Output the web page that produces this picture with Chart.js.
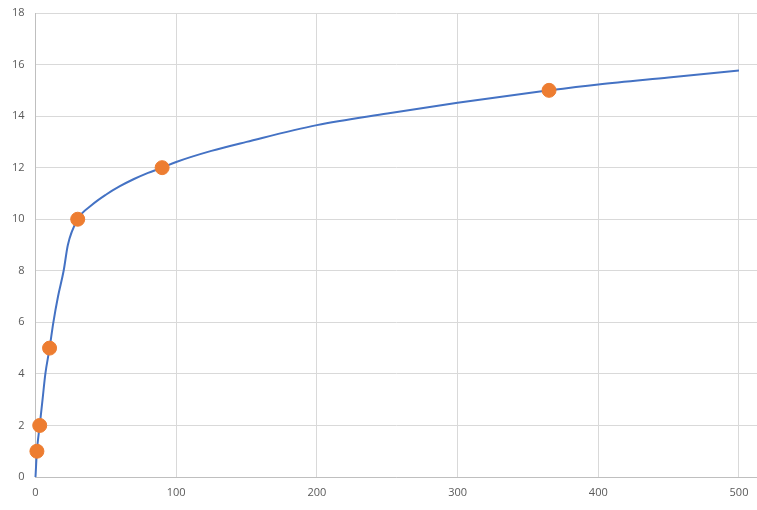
<!DOCTYPE html>
<html>
<head>
<meta charset="utf-8">
<script src="https://cdn.jsdelivr.net/npm/chart.js@4/dist/chart.umd.min.js"></script>
<style>
  html, body { margin: 0; padding: 0; background: #fff; }
  #wrap { width: 757px; height: 510px; }
</style>
</head>
<body>
<div id="wrap"><canvas id="chart"></canvas></div>
<script>
// curve
const curveX = [0, 1, 3, 5, 7, 10, 12.7, 16, 20, 23, 30, 40, 50, 60, 70, 80, 90, 100, 125, 150, 200, 250, 300, 365, 400, 450, 500];
const curveY = [0, 1, 2, 3, 4, 5, 6, 7, 8, 9, 10, 10.55, 10.95, 11.28, 11.56, 11.8, 12.0, 12.22, 12.65, 13.0, 13.65, 14.1, 14.52, 15.0, 15.23, 15.5, 15.77];

// orange markers
const pointX = [1, 3, 10, 30, 90, 365];
const pointY = [1, 2, 5, 10, 12, 15];

const xTicks = [0, 100, 200, 300, 400, 500];

const toXY = (xs, ys) => xs.map((x, i) => ({ x: x, y: ys[i] }));

new Chart(document.getElementById('chart'), {
  type: 'scatter',
  data: {
    datasets: [
      {
        label: 'Points',
        data: toXY(pointX, pointY),
        backgroundColor: '#ED7D31',
        borderColor: '#ED7D31',
        pointRadius: 7,
        pointHoverRadius: 7,
        clip: false,
        order: 0
      },
      {
        label: 'Curve',
        data: toXY(curveX, curveY),
        showLine: true,
        borderColor: '#4472C4',
        borderWidth: 2,
        pointRadius: 0,
        cubicInterpolationMode: 'monotone',
        clip: false,
        order: 1
      }
    ]
  },
  options: {
    responsive: true,
    maintainAspectRatio: false,
    animation: false,
    layout: { autoPadding: false, padding: { top: 13, right: 0, left: 0, bottom: 0 } },
    plugins: {
      legend: { display: false },
      tooltip: { enabled: false }
    },
    scales: {
      x: {
        type: 'linear',
        min: 0,
        max: 512.8,
        afterBuildTicks: (scale) => { scale.ticks = xTicks.map(v => ({ value: v })); },
        afterFit: (scale) => {
          scale.height = 33;
          scale.paddingLeft = 0;
          scale.paddingRight = 0;
        },
        grid: { color: '#d9d9d9', drawTicks: false },
        border: { color: '#bfbfbf' },
        ticks: {
          padding: 9,
          color: '#595959',
          font: { family: 'Open Sans', size: 11 }
        }
      },
      y: {
        min: 0,
        max: 18,
        afterFit: (scale) => {
          scale.width = 35.5;
          scale.paddingTop = 0;
          scale.paddingBottom = 0;
        },
        grid: { color: '#d9d9d9', drawTicks: false },
        border: { color: '#bfbfbf' },
        ticks: {
          stepSize: 2,
          padding: 11,
          color: '#595959',
          font: { family: 'Open Sans', size: 11 }
        }
      }
    }
  }
});
</script>
</body>
</html>
